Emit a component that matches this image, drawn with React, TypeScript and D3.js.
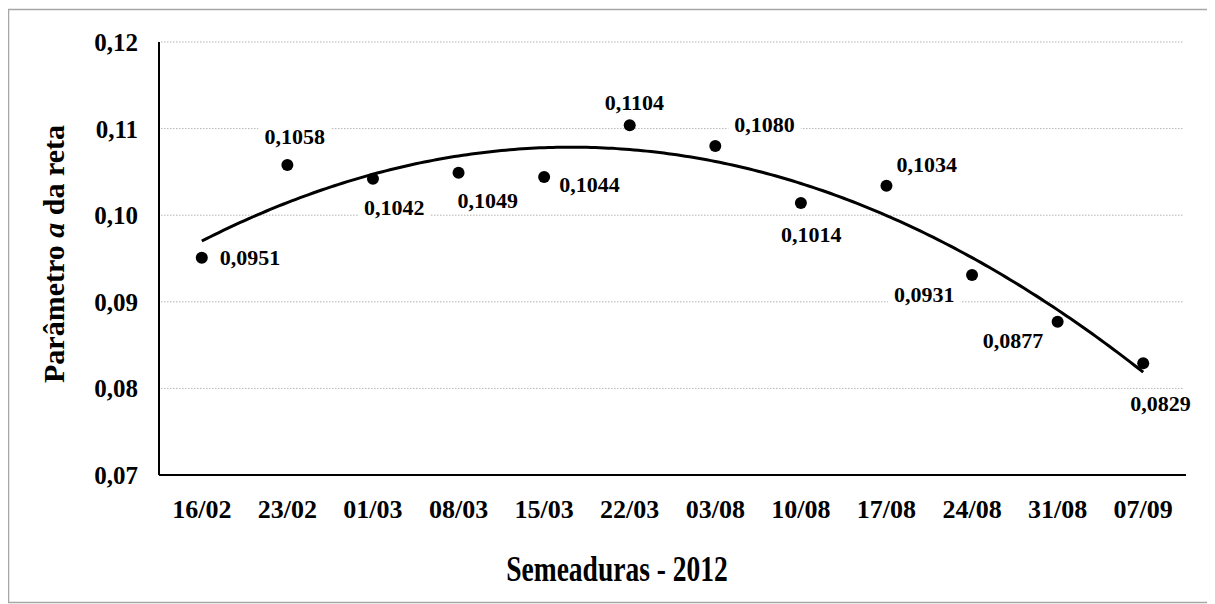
import React from "react";
import * as d3 from "d3";

const categories = ["16/02", "23/02", "01/03", "08/03", "15/03", "22/03", "03/08", "10/08", "17/08", "24/08", "31/08", "07/09"];
const values = [0.0951, 0.1058, 0.1042, 0.1049, 0.1044, 0.1104, 0.108, 0.1014, 0.1034, 0.0931, 0.0877, 0.0829];
const yTicks = [0.07, 0.08, 0.09, 0.1, 0.11, 0.12];
const xTitle = "Semeaduras - 2012";

// label placement (start x offset, baseline y offset) relative to each dot
const labelPlacement: [number, number][] = [
  [18, 7], [-23, -21], [-9, 36], [-1, 35], [15, 15], [-25, -15],
  [19, -14], [-20, 39], [10, -14], [-78, 27], [-75, 26], [-13, 48],
];

const W = 1207;
const H = 596;
const OX = 8; // page offset
const plotLeft = 159 - OX;
const plotRight = 1186 - OX;
const plotTop = 42 - OX;
const plotBottom = 475 - OX;
const FONT = "'Liberation Serif', 'Times New Roman', serif";

function fmt(v: number, d: number) {
  return v.toFixed(d).replace(".", ",");
}

// quadratic least squares trendline
function quadFit(xs: number[], ys: number[]) {
  const n = xs.length;
  let s0 = n, s1 = 0, s2 = 0, s3 = 0, s4 = 0, t0 = 0, t1 = 0, t2 = 0;
  for (let i = 0; i < n; i++) {
    const x = xs[i], y = ys[i];
    s1 += x; s2 += x * x; s3 += x ** 3; s4 += x ** 4;
    t0 += y; t1 += x * y; t2 += x * x * y;
  }
  const M = [[s4, s3, s2, t2], [s3, s2, s1, t1], [s2, s1, s0, t0]];
  for (let i = 0; i < 3; i++) {
    for (let k = i + 1; k < 3; k++) {
      const f = M[k][i] / M[i][i];
      for (let j = i; j < 4; j++) M[k][j] -= f * M[i][j];
    }
  }
  const r = [0, 0, 0];
  for (let i = 2; i >= 0; i--) {
    let s = M[i][3];
    for (let j = i + 1; j < 3; j++) s -= M[i][j] * r[j];
    r[i] = s / M[i][i];
  }
  return (x: number) => r[0] * x * x + r[1] * x + r[2];
}

export default function App() {
  const x = d3.scaleBand<string>().domain(categories).range([plotLeft, plotRight]).padding(0);
  const cx = (c: string) => (x(c) as number) + x.bandwidth() / 2;
  const y = d3.scaleLinear().domain([0.07, 0.12]).range([plotBottom, plotTop]);

  const idx = categories.map((_, i) => i + 1);
  const f = quadFit(idx, values);
  const xi = d3.scaleLinear().domain([1, categories.length]).range([cx(categories[0]), cx(categories[categories.length - 1])]);
  const samples = d3.range(1, categories.length + 0.001, 0.05);
  const line = d3.line<number>().x((t) => xi(t)).y((t) => y(f(t))).curve(d3.curveLinear);

  const labelFont = 22;
  const charW = (s: string) => {
    let w = 0;
    for (const ch of s) w += ch === "," ? 0.25 : 0.5;
    return w * labelFont;
  };

  return (
    <svg width={W} height={H} style={{ display: "block" }} fontFamily={FONT}>
      <rect x={0} y={0} width={W} height={H} fill="#fff" />
      <rect x={0.5} y={1.5} width={1201} height={593} fill="none" stroke="#a6a6a6" strokeWidth={1.5} />
      {yTicks.filter((t) => t > 0.07).map((t) => (
        <line key={"g" + t} x1={plotLeft + 2} x2={plotRight - 3} y1={y(t)} y2={y(t)} stroke="#b3b3b3" strokeWidth={1} strokeDasharray="1.5,1.5" />
      ))}
      {yTicks.map((t) => (
        <text key={"yt" + t} x={138 - OX} y={y(t) + 9} textAnchor="end" fontSize={25} fontWeight="bold" fill="#000">
          {fmt(t, 2)}
        </text>
      ))}
      <line x1={plotLeft} x2={plotLeft} y1={plotTop} y2={plotBottom} stroke="#000" strokeWidth={2} />
      <line x1={plotLeft} x2={plotRight} y1={plotBottom} y2={plotBottom} stroke="#000" strokeWidth={2} />
      {categories.map((c) => (
        <text key={"xt" + c} x={cx(c)} y={518 - OX} textAnchor="middle" fontSize={26} fontWeight="bold" fill="#000">
          {c}
        </text>
      ))}
      <path d={line(samples) || ""} fill="none" stroke="#000" strokeWidth={3} />
      {values.map((v, i) => (
        <circle key={"p" + i} cx={cx(categories[i])} cy={y(v)} r={6} fill="#000" />
      ))}
      {values.map((v, i) => {
        const [dx, dy] = labelPlacement[i];
        const tx = cx(categories[i]) + dx;
        const ty = y(v) + dy;
        const s = fmt(v, 4);
        const w = charW(s);
        return (
          <g key={"l" + i}>
            <rect x={tx - 6} y={ty - 18} width={w + 12} height={24} fill="#fff" />
            <text x={tx} y={ty} fontSize={labelFont} fontWeight="bold" fill="#000">{s}</text>
          </g>
        );
      })}
      <text transform={`translate(${617 - OX},${581 - OX}) scale(1,1.28)`} textAnchor="middle" fontSize={27.5} fontWeight="bold" fill="#000">
        {xTitle}
      </text>
      <text transform={`translate(${64 - OX},${254 - OX}) rotate(-90)`} textAnchor="middle" fontSize={30} fontWeight="bold" fill="#000">
        Parâmetro <tspan fontStyle="italic">a</tspan> da reta
      </text>
    </svg>
  );
}
